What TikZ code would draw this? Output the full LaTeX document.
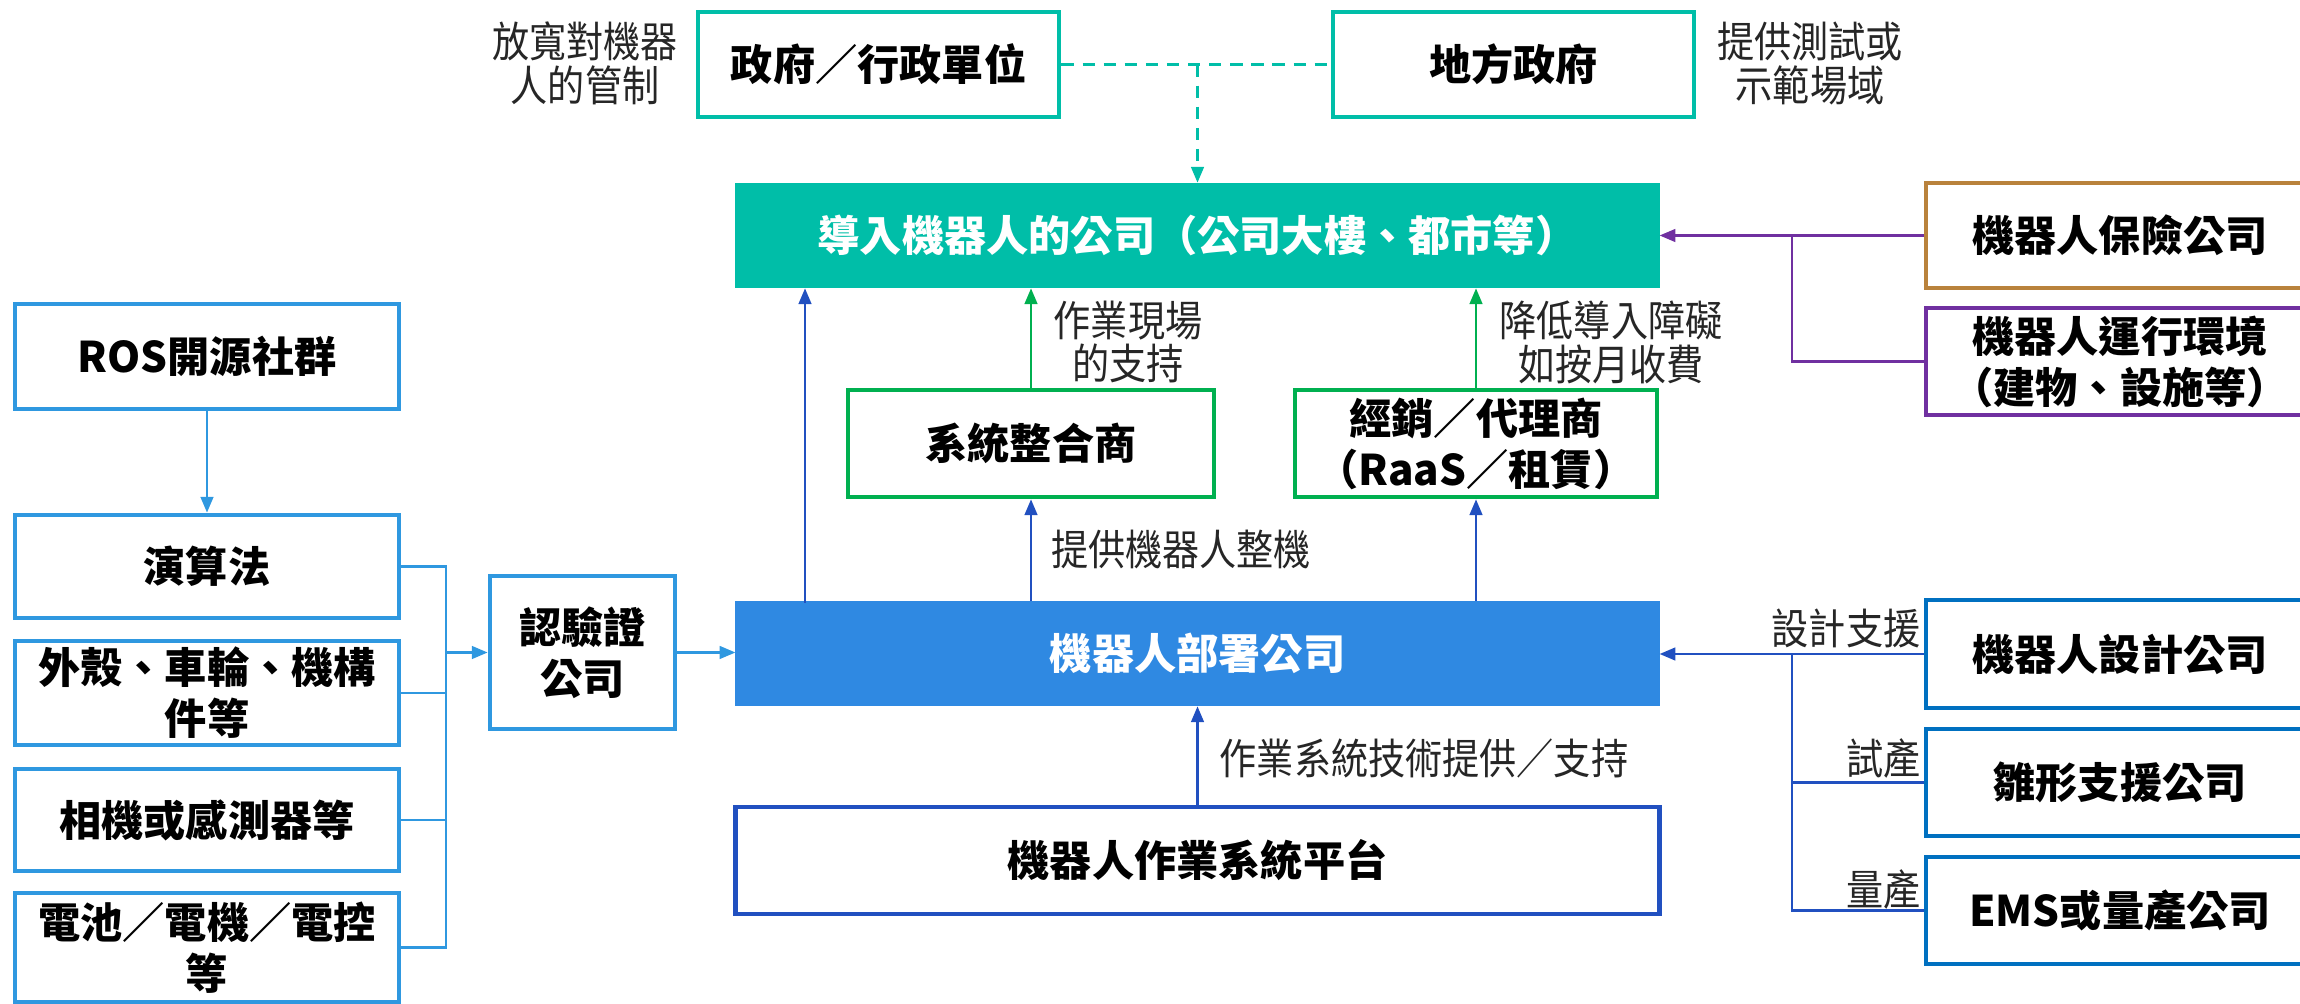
\documentclass[tikz,border=0pt]{standalone}
\usepackage{fontspec}
\newfontfamily\cjk{Noto Sans CJK TC}
\newfontfamily\cjklab{Noto Sans CJK TC}[FakeStretch=0.88]
\usetikzlibrary{arrows.meta}
\definecolor{tealC}{RGB}{0,190,168}
\definecolor{deployC}{RGB}{47,137,226}
\definecolor{lbC}{RGB}{47,152,224}
\definecolor{platC}{RGB}{33,80,192}
\definecolor{dbC}{RGB}{33,80,192}
\definecolor{greenC}{RGB}{0,176,80}
\definecolor{brownC}{RGB}{185,130,60}
\definecolor{purpleC}{RGB}{112,48,160}
\definecolor{rbC}{RGB}{0,112,192}
\begin{document}
\begin{tikzpicture}[x=0.01cm,y=-0.01cm,
  bx/.style={draw, line width=1.3pt, fill=white, text=black, align=center, inner sep=0pt,
    font=\cjk\bfseries\fontsize{12pt}{14.5pt}\selectfont},
  lab/.style={align=center, inner sep=0pt, text=black!85,
    font=\cjklab\fontsize{12pt}{12.5pt}\selectfont},
  con/.style={line width=0.7pt},
  arr/.style={con,-{Triangle[length=4.5pt,width=3.6pt]}}
]
\useasboundingbox (0,0) rectangle (2300,1004);
% top
\node[bx, draw=tealC, minimum width=3.61cm, minimum height=1.05cm] (gov) at (878.5,64.5) {政府／行政單位};
\node[bx, draw=tealC, minimum width=3.61cm, minimum height=1.05cm] (local) at (1513.5,64.5) {地方政府};
\node[bx, draw=tealC, fill=tealC, text=white, minimum width=9.19cm, minimum height=1.01cm] (teal) at (1197.5,235.5) {導入機器人的公司（公司大樓、都市等）};
% right top
\node[bx, draw=brownC, minimum width=3.88cm, minimum height=1.05cm] (ins) at (2120,235.5) {機器人保險公司};
\node[bx, draw=purpleC, minimum width=3.88cm, minimum height=1.07cm] (env) at (2120,361.5) {機器人運行環境\\（建物、設施等）};
% left column
\node[bx, draw=lbC, minimum width=3.84cm, minimum height=1.05cm] (ros) at (207,356.5) {ROS開源社群};
\node[bx, draw=lbC, minimum width=3.84cm, minimum height=1.03cm] (alg) at (207,566.5) {演算法};
\node[bx, draw=lbC, minimum width=3.84cm, minimum height=1.04cm] (shell) at (207,693) {外殼、車輪、機構\\件等};
\node[bx, draw=lbC, minimum width=3.84cm, minimum height=1.02cm] (cam) at (207,820) {相機或感測器等};
\node[bx, draw=lbC, minimum width=3.84cm, minimum height=1.09cm] (bat) at (207,947.5) {電池／電機／電控\\等};
\node[bx, draw=lbC, minimum width=1.85cm, minimum height=1.53cm] (cert) at (582.5,652.5) {認驗證\\公司};
% middle
\node[bx, draw=deployC, fill=deployC, text=white, minimum width=9.19cm, minimum height=1.01cm] (deploy) at (1197.5,653.5) {機器人部署公司};
\node[bx, draw=greenC, minimum width=3.66cm, minimum height=1.07cm] (si) at (1031,443.5) {系統整合商};
\node[bx, draw=greenC, minimum width=3.62cm, minimum height=1.07cm] (dist) at (1476,443.5) {經銷／代理商\\（RaaS／租賃）};
\node[bx, draw=platC, minimum width=9.23cm, minimum height=1.07cm] (plat) at (1197.5,860.5) {機器人作業系統平台};
% right bottom
\node[bx, draw=rbC, minimum width=3.88cm, minimum height=1.08cm] (des) at (2120,654) {機器人設計公司};
\node[bx, draw=rbC, minimum width=3.88cm, minimum height=1.07cm] (proto) at (2120,782.5) {雛形支援公司};
\node[bx, draw=rbC, minimum width=3.88cm, minimum height=1.07cm] (ems) at (2120,910.5) {EMS或量產公司};
% labels
\node[lab] (l1) at (585,63) {放寬對機器\\人的管制};
\node[lab] (l2) at (1810,63) {提供測試或\\示範場域};
\node[lab] (l3) at (1128,342) {作業現場\\的支持};
\node[lab] (l4) at (1611,342) {降低導入障礙\\如按月收費};
\node[lab] (l5) at (1181,550) {提供機器人整機};
\node[lab] (l6) at (1424,758) {作業系統技術提供／支持};
\node[lab, anchor=east] (l7) at (1921,628) {設計支援};
\node[lab, anchor=east] (l8) at (1921,758) {試產};
\node[lab, anchor=east] (l9) at (1921,889) {量產};
% coordinates
\coordinate (dj) at (1197.5,64.5);
\coordinate (pj) at (1792,235.5);
\coordinate (bj) at (446,652.5);
\coordinate (u1) at (805,603);
\coordinate (rj) at (1792,654);
% connectors
\draw[con, tealC, dash pattern=on 3.5pt off 2.5pt] (gov.east) -- (local.west);
\draw[arr, tealC, dash pattern=on 3.5pt off 2.5pt] (dj) -- (teal.north);
\draw[arr, purpleC] (ins.west) -- (ins.west -| teal.east);
\draw[con, purpleC] (pj) |- (env.west);
\draw[arr, lbC] (ros.south) -- (alg.north);
\draw[con, lbC] (alg.east) -- (alg.east -| bj) |- (bat.east);
\draw[con, lbC] (shell.east) -- (shell.east -| bj);
\draw[con, lbC] (cam.east) -- (cam.east -| bj);
\draw[arr, lbC] (bj) -- (cert.west);
\draw[arr, lbC] (cert.east) -- (cert.east -| deploy.west);
\draw[arr, dbC] (u1) -- (u1 |- teal.south);
\draw[arr, dbC] (deploy.north -| si.south) -- (si.south);
\draw[arr, dbC] (deploy.north -| dist.south) -- (dist.south);
\draw[arr, greenC] (si.north) -- (si.north |- teal.south);
\draw[arr, greenC] (dist.north) -- (dist.north |- teal.south);
\draw[arr, dbC] (plat.north) -- (plat.north |- deploy.south);
\draw[arr, dbC] (des.west) -- (des.west -| deploy.east);
\draw[con, dbC] (rj) |- (ems.west);
\draw[con, dbC] (proto.west) -- (proto.west -| rj);
\end{tikzpicture}
\end{document}
